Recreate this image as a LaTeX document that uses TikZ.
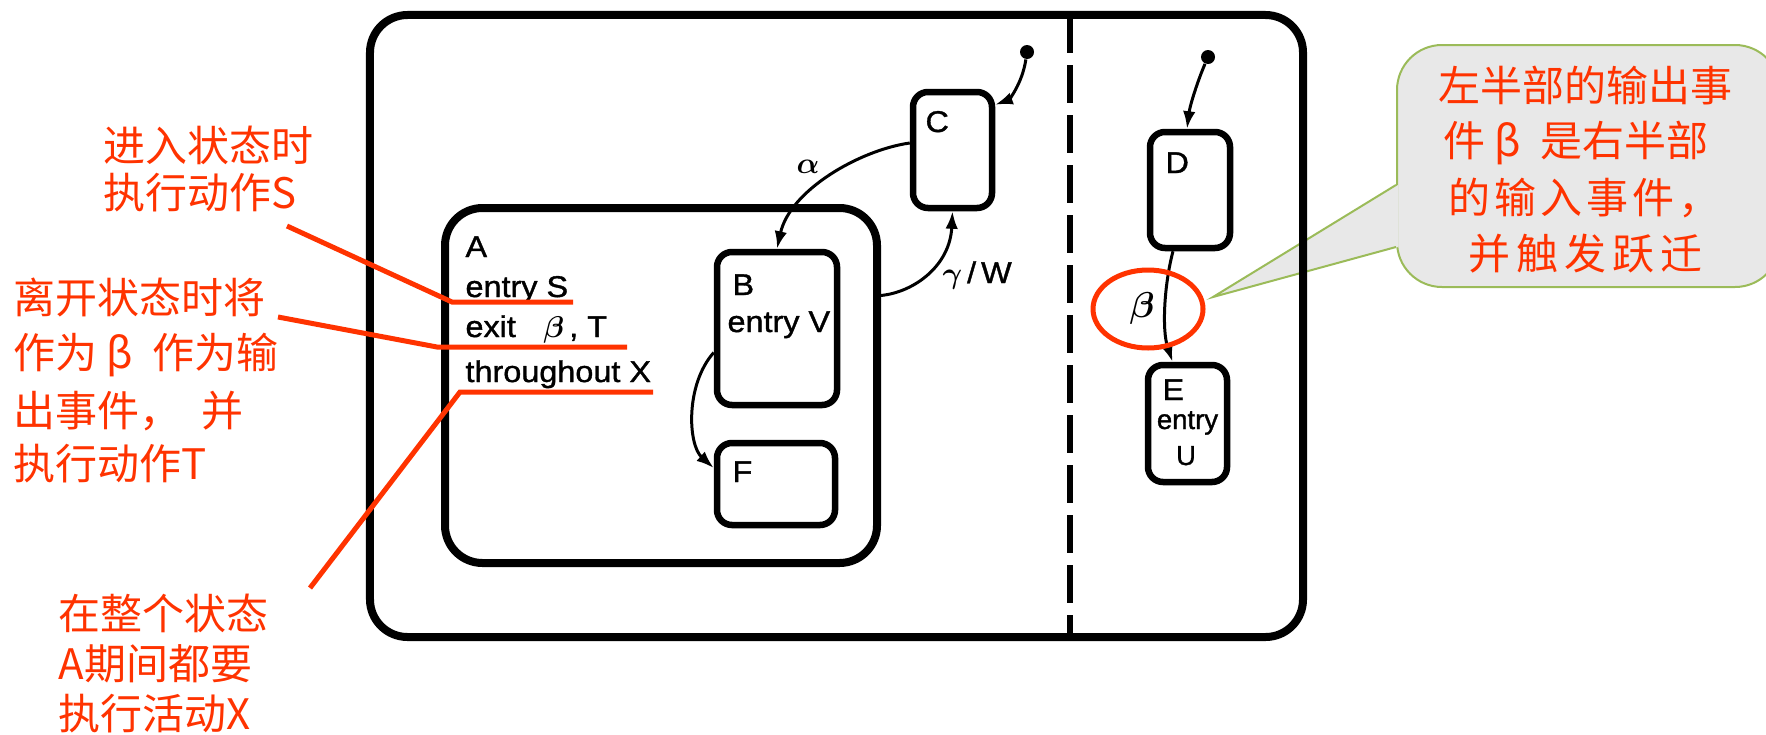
\documentclass[tikz,border=0pt]{standalone}
\usepackage{fontspec}
\setmainfont{Liberation Sans}
\newfontfamily\cjk{Noto Sans CJK SC}
\newfontfamily\diag[FakeStretch=1.08,FakeBold=1.2]{Liberation Sans}
\newfontfamily\diagn[FakeBold=1.2]{Liberation Sans}
\usetikzlibrary{arrows.meta,calc,shapes.geometric}
\definecolor{annred}{RGB}{255,51,0}
\definecolor{callfill}{RGB}{232,232,232}
\definecolor{callline}{RGB}{155,187,89}
\begin{document}
\begin{tikzpicture}[x=0.4pt,y=-0.4pt,
  bigbox/.style={draw, line width=3.2pt, rounded corners=15pt, inner sep=0pt},
  stbox/.style={draw, line width=2.6pt, rounded corners=6pt, inner sep=0pt},
  initdot/.style={circle, fill, inner sep=0pt, minimum size=5.6pt},
  tr/.style={line width=1.2pt, -{Latex[length=7pt,width=5pt]}},
  divider/.style={line width=2.4pt, dash pattern=on 15pt off 5pt},
  lbl/.style={anchor=base west, inner sep=0pt, font=\diag\boldmath\fontsize{12pt}{14pt}\selectfont},
  lblc/.style={anchor=base, inner sep=0pt, font=\diagn\fontsize{11pt}{13pt}\selectfont},
  ann/.style={anchor=base west, inner sep=0pt, text=annred, font=\cjk\fontsize{16.8pt}{20pt}\selectfont},
  lead/.style={annred, line width=2pt}
]
\useasboundingbox (0,0) rectangle (1766,734);
\clip (0,0) rectangle (1766,734);
\fill[white] (0,0) rectangle (1766,734);

% callout
\node[draw=callline, fill=callfill, line width=0.8pt, rounded corners=18pt, inner sep=0pt,
      minimum width=153.2pt, minimum height=96.8pt] (call) at (1588.5,166) {};
\coordinate (tip) at (1213,297);
\fill[callfill] ($(call.west)+(2,19)$) -- (tip) -- ($(call.west)+(2,81)$) -- cycle;
\draw[callline, line width=0.8pt] ($(call.west)+(0,19)$) -- (tip) -- ($(call.west)+(0,81)$);

% states
\node[bigbox, minimum width=373.2pt, minimum height=248.8pt] (outer) at (836.5,326) {};
\node[bigbox, minimum width=172.8pt, minimum height=142pt] (A) at (661,385.5) {};
\node[stbox, minimum width=48pt, minimum height=61.2pt] (B) at (777,328.5) {};
\node[stbox, minimum width=47.2pt, minimum height=32.8pt] (F) at (776,484) {};
\node[stbox, minimum width=31.6pt, minimum height=46.4pt] (C) at (952.5,150) {};
\node[stbox, minimum width=32pt, minimum height=46.4pt] (D) at (1190,190) {};
\node[stbox, minimum width=31.6pt, minimum height=46.8pt] (E) at (1187.5,423.5) {};

\coordinate (dtop) at (1070,15);
\coordinate (dbot) at (1070,637);
\draw[divider] (dtop) -- (dbot);

\node[initdot] (c0) at (1027,52) {};
\node[initdot] (d0) at (1208,57) {};

% transitions
\draw[tr] (c0) .. controls (1022,85) and (1008,100) .. ($(C.north east)+(0,16)$);
\draw[tr] ($(C.west)+(0,-7)$) .. controls (860,150) and (790,190) .. (B.north);
\draw[tr] ($(B.west)+(0,24)$) .. controls (685,385) and (688,445) .. ($(F.west)+(0,-16)$);
\draw[tr] ($(A.east)+(0,-90)$) .. controls (915,292) and (950,265) .. (C.south);
\draw[tr] (d0) .. controls (1198,80) and (1190,105) .. ($(D.north)+(-3,0)$);
\draw[tr] ($(D.south)+(-17,0)$) .. controls (1164,285) and (1162,330) .. ($(E.north)+(-15,0)$);

% labels
\node[lbl] (lA) at (465,257) {A};
\node[lbl] (lentryS) at (465,297) {entry S};
\node[lbl] (lexit) at (465,337) {exit\hspace{11pt}$\beta$\,,\ T};
\node[lbl] (lthr) at (465,382) {throughout X};
\node[lbl] (lB) at (732,295) {B};
\node[lbl] (lentryV) at (727,332) {entry V};
\node[lbl] (lF) at (732,482) {F};
\node[lbl] (lC) at (925,132) {C};
\node[lbl] (lD) at (1165,173) {D};
\node[lbl] (lE) at (1162,400) {E};
\node[lblc] (lentryU) at (1187.5,429) {entry};
\node[lblc] (lU) at (1186,465) {U};
\node[lbl] (lgw) at (942,283) {$\gamma$\,/\,W};
\node[inner sep=0pt, font=\boldmath\fontsize{13pt}{15pt}\selectfont] (lalpha) at (808,167) {$\alpha$};
\node[inner sep=0pt, font=\boldmath\fontsize{15pt}{17pt}\selectfont] (lbeta) at (1142,308) {$\beta$};

\node[draw=annred, line width=2pt, ellipse, inner sep=0pt, minimum width=44pt, minimum height=31.2pt] (ring) at (1148,309) {};

% annotations
\node[ann] (a1a) at (103,161) {进入状态时};
\node[ann] (a1b) at (103,208) {执行动作S};
\node[ann] (a2a) at (13,313) {离开状态时将};
\node[ann] (a2b) at (13,368) {作为 β\hspace{4pt} 作为输};
\node[ann] (a2c) at (13,426) {出事件，\hspace{8pt}并};
\node[ann] (a2d) at (13,479) {执行动作T};
\node[ann] (a3a) at (58,629) {在整个状态};
\node[ann] (a3b) at (58,679) {A期间都要};
\node[ann] (a3c) at (58,729) {执行活动X};

\coordinate (l1s) at (287,226); \coordinate (l1m) at (452,302); \coordinate (l1e) at (573,302);
\coordinate (l2s) at (278,317); \coordinate (l2m) at (437,347); \coordinate (l2e) at (627,347);
\coordinate (l3s) at (310,588); \coordinate (l3m) at (460,392); \coordinate (l3e) at (653,392);
\draw[lead] (l1s) -- (l1m) -- (l1e);
\draw[lead] (l2s) -- (l2m) -- (l2e);
\draw[lead] (l3s) -- (l3m) -- (l3e);

% callout text
\node[ann] (c1) at (1438,101) {左半部的输出事};
\node[ann] (c2) at (1443,156) {件 β\hspace{4pt} 是右半部};
\node[ann] (c3) at (1448,213) {的\kern1.6pt 输\kern1.6pt 入\kern1.6pt 事\kern1.6pt 件\kern1.6pt ，};
\node[ann] (c4) at (1468,269) {并\kern2.4pt 触\kern2.4pt 发\kern2.4pt 跃\kern2.4pt 迁};
\end{tikzpicture}
\end{document}
